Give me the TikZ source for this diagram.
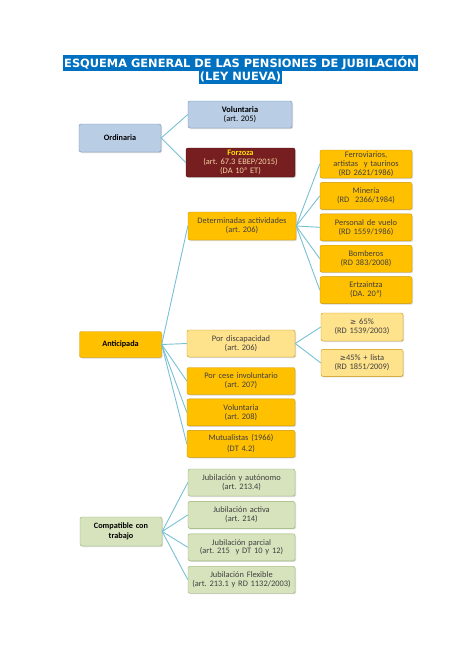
\documentclass[tikz,border=0pt]{standalone}
\usepackage{fontspec}
\setmainfont{Carlito}
\newfontfamily\titlefont{DejaVu Sans}
\newfontfamily\symfont{DejaVu Sans}
\usepackage{xcolor}
\usepackage{tikz}
\usetikzlibrary{positioning,shadows}
\frenchspacing

\definecolor{titleblue}{RGB}{0,112,192}
\definecolor{bluefill}{RGB}{185,205,229}
\definecolor{blueline}{RGB}{110,140,180}
\definecolor{redfill}{RGB}{118,30,32}
\definecolor{redline}{RGB}{75,18,18}
\definecolor{forzotext}{RGB}{255,222,0}
\definecolor{forzobody}{RGB}{245,212,165}
\definecolor{goldfill}{RGB}{255,192,0}
\definecolor{goldline}{RGB}{205,150,0}
\definecolor{paleyfill}{RGB}{255,226,140}
\definecolor{greenfill}{RGB}{214,227,188}
\definecolor{greenline}{RGB}{150,178,108}
\definecolor{linkblue}{RGB}{120,192,212}

\begin{document}
\begin{tikzpicture}[
    x=1pt, y=1pt,
    node distance=4pt and 24pt,
    box/.style={draw, rectangle, rounded corners=2pt, align=center, inner xsep=1pt, inner ysep=0.5pt, font=\fontsize{8.4}{8.9}\selectfont, text=black!75, drop shadow={opacity=0.3, shadow xshift=1pt, shadow yshift=-1pt}},
    bluebox/.style={box, fill=bluefill, draw=blueline, text=black},
    redbox/.style={box, fill=redfill, draw=redline, text=forzobody},
    goldbox/.style={box, fill=goldfill, draw=goldline},
    paleybox/.style={box, fill=paleyfill, draw=goldline},
    greenbox/.style={box, fill=greenfill, draw=greenline},
    rootbox/.style={font=\bfseries\fontsize{8.2}{9.4}\selectfont, text=black, text width=80pt},
    titlebar/.style={fill=titleblue, text=white, inner xsep=1pt, inner ysep=1.2pt, font=\titlefont\bfseries\fontsize{11.4}{12}\selectfont},
    link/.style={draw=linkblue, line width=0.9pt}
]
    \useasboundingbox (0,0) rectangle (474,-670);

    % Title
    \node [titlebar] (title1) at (240.5,-63) {ESQUEMA GENERAL DE LAS PENSIONES DE JUBILACIÓN};
    \node [titlebar, below=0pt of title1] (title2) {(LEY NUEVA)};

    % Ordinaria
    \node [bluebox, rootbox, minimum height=28pt] (ordinaria) at (120,-138) {Ordinaria};
    \node [bluebox, text width=102pt, minimum height=27pt] (vol205) at (240,-114.5) {\textbf{Voluntaria}\\(art. 205)};
    \node [redbox, text width=107pt, minimum height=29pt] (forzoza) at (240.5,-162.5) {{\color{forzotext}\bfseries Forzoza}\\(art. 67.3 EBEP/2015)\\(DA 10ª ET)};

    % Anticipada
    \node [goldbox, rootbox, minimum height=26pt] (anticipada) at (120.5,-344.5) {Anticipada};
    \node [goldbox, text width=106pt, minimum height=28pt] (actividades) at (242,-226) {Determinadas actividades\\(art. 206)};
    \node [paleybox, text width=106pt, minimum height=27pt] (discapacidad) at (241,-343.5) {Por discapacidad\\(art. 206)};
    \node [goldbox, text width=106pt, minimum height=27pt] (cese) at (241,-381) {Por cese involuntario\\(art. 207)};
    \node [goldbox, text width=106pt, minimum height=27pt, below=of cese] (vol208) {Voluntaria\\(art. 208)};
    \node [goldbox, text width=106pt, minimum height=27pt, below=of vol208] (mutualistas) {Mutualistas (1966)\\[2pt](DT 4.2)};

    % Determinadas actividades
    \node [goldbox, text width=90pt, minimum height=28pt] (ferro) at (366,-164) {Ferroviarios,\\artistas\ \ y taurinos\\(RD 2621/1986)};
    \node [goldbox, text width=90pt, minimum height=27pt, below=of ferro] (mineria) {Minería\\(RD\ \ 2366/1984)};
    \node [goldbox, text width=90pt, minimum height=27pt, below=of mineria] (vuelo) {Personal de vuelo\\(RD 1559/1986)};
    \node [goldbox, text width=90pt, minimum height=27pt, below=of vuelo] (bomberos) {Bomberos\\(RD 383/2008)};
    \node [goldbox, text width=90pt, minimum height=27pt, below=of bomberos] (ertzaintza) {Ertzaintza\\(DA. 20ª)};

    % Discapacidad
    \node [paleybox, text width=80pt, minimum height=28pt] (grado65) at (362,-327) {{\symfont\fontsize{7.4}{8}\selectfont ≥} 65\%\\(RD 1539/2003)};
    \node [paleybox, text width=80pt, minimum height=27pt, below=8pt of grado65] (grado45) {{\symfont\fontsize{7.4}{8}\selectfont ≥}45\% + lista\\(RD 1851/2009)};

    % Compatible con trabajo
    \node [greenbox, rootbox, minimum height=29pt] (compatible) at (121,-531.5) {Compatible con\\trabajo};
    \node [greenbox, text width=105pt, minimum height=27pt] (autonomo) at (241.5,-482.5) {Jubilación y autónomo\\(art. 213.4)};
    \node [greenbox, text width=105pt, minimum height=27pt, below=5pt of autonomo] (activa) {Jubilación activa\\(art. 214)};
    \node [greenbox, text width=105pt, minimum height=27pt, below=5pt of activa] (parcial) {Jubilación parcial\\(art. 215\ \ y DT 10 y 12)};
    \node [greenbox, text width=105pt, minimum height=27pt, below=5pt of parcial] (flexible) {Jubilación Flexible\\(art. 213.1 y RD 1132/2003)};

    % Connections
    \draw [link] (ordinaria.east) -- (vol205.west);
    \draw [link] (ordinaria.east) -- (forzoza.west);

    \foreach \child in {actividades, discapacidad, cese, vol208, mutualistas}
        \draw [link] (anticipada.east) -- (\child.west);

    \foreach \child in {ferro, mineria, vuelo, bomberos, ertzaintza}
        \draw [link] (actividades.east) -- (\child.west);

    \draw [link] (discapacidad.east) -- (grado65.west);
    \draw [link] (discapacidad.east) -- (grado45.west);

    \foreach \child in {autonomo, activa, parcial, flexible}
        \draw [link] (compatible.east) -- (\child.west);

\end{tikzpicture}
\end{document}
